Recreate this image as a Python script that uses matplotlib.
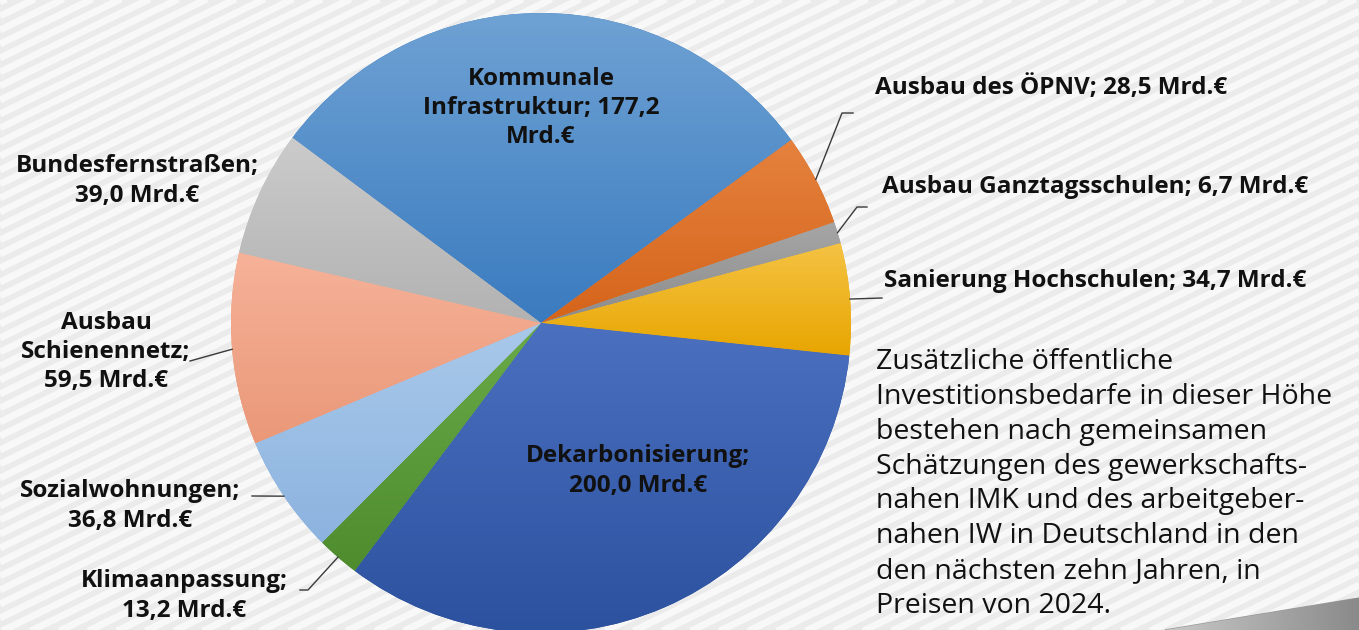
import numpy as np
import matplotlib
matplotlib.use("Agg")
import matplotlib.pyplot as plt
from matplotlib.colors import LinearSegmentedColormap
from matplotlib.patches import Polygon

# investment needs in bn EUR, clockwise starting with the big blue slice
categories = ["Kommunale\nInfrastruktur", "Ausbau des ÖPNV", "Ausbau Ganztagsschulen",
              "Sanierung Hochschulen", "Dekarbonisierung", "Klimaanpassung",
              "Sozialwohnungen", "Ausbau\nSchienennetz", "Bundesfernstraßen"]
values = [177.2, 28.5, 6.7, 34.7, 200.0, 13.2, 36.8, 59.5, 39.0]

note = ("Zusätzliche öffentliche\n"
        "Investitionsbedarfe in dieser Höhe\n"
        "bestehen nach gemeinsamen\n"
        "Schätzungen des gewerkschafts-\n"
        "nahen IMK und des arbeitgeber-\n"
        "nahen IW in Deutschland in den\n"
        "den nächsten zehn Jahren, in\n"
        "Preisen von 2024.")

# (light, dark) gradient per slice
colors = [("#6fa2d4", "#3a7bbf"), ("#e5823e", "#d5641a"), ("#a6a6a6", "#8c8c8c"),
          ("#f5c344", "#e7a500"), ("#4b70bf", "#2c519f"), ("#6aaa48", "#4e8c2e"),
          ("#a9c9ea", "#8cb3df"), ("#f6b299", "#ea9878"), ("#cbcbcb", "#b2b2b2")]

W, H = 1359, 630
FONT = "Open Sans"


def py(y):
    # pixel row -> data y
    return H - y


def fmt(v):
    return ("%.1f" % v).replace(".", ",")


fig = plt.figure(figsize=(W / 100, H / 100), dpi=100)
ax = fig.add_axes([0, 0, 1, 1])
ax.set_xlim(0, W)
ax.set_ylim(0, H)
ax.axis("off")

# striped background
ax.add_patch(plt.Rectangle((0, 0), W, H, color="#ebebeb", zorder=0))
slope = np.tan(np.radians(26))
for y0 in np.arange(-800, H + 20, 14):
    ax.plot([0, W], [y0, y0 + slope * W], color="#f8f8f8", lw=5, zorder=0.5,
            solid_capstyle="butt")

# grey corner shape bottom right
corner = Polygon([(1165, 0), (W, py(598)), (W, 0)], closed=True, color="#9a9a9a", zorder=1)
ax.add_patch(corner)
cg = ax.imshow(np.linspace(0, 1, 256).reshape(1, -1), extent=[1165, W, 0, py(598)],
               cmap=LinearSegmentedColormap.from_list("c", ["#c9c9c9", "#8a8a8a"]),
               aspect="auto", zorder=1.1)
cg.set_clip_path(corner)

cx, cy, R = 541, py(323), 310
wedges, _ = ax.pie(values, center=(cx, cy), radius=R, startangle=143.3,
                   counterclock=False, colors=[c[1] for c in colors],
                   wedgeprops=dict(linewidth=0), frame=True)
for w, (light, dark) in zip(wedges, colors):
    ext = w.get_path().get_extents()
    im = ax.imshow(np.linspace(0, 1, 256).reshape(-1, 1), origin="lower",
                   extent=[ext.x0, ext.x1, ext.y0, ext.y1], aspect="auto",
                   cmap=LinearSegmentedColormap.from_list("g", [dark, light]),
                   interpolation="bilinear", zorder=2)
    im.set_clip_path(w)

ax.set_xlim(0, W)
ax.set_ylim(0, H)
ax.set_aspect("auto")
ax.axis("off")

# label layout: (x, y px, ha, sep between name and value, sep before unit)
label_pos = [
    (541, 108, "center", "; ", "\n"),
    (875, 88, "left", "; ", " "),
    (882, 187, "left", "; ", " "),
    (884, 281, "left", "; ", " "),
    (638, 471, "center", ";\n", " "),
    (184, 596, "center", ";\n", " "),
    (130, 506, "center", ";\n", " "),
    (106, 352, "center", ";\n", " "),
    (137, 181, "center", ";\n", " "),
]
for name, v, (x, y, ha, s1, s2) in zip(categories, values, label_pos):
    ax.text(x, py(y), name + s1 + fmt(v) + s2 + "Mrd.€", ha=ha, va="center",
            multialignment="center", fontsize=17.5, fontweight="bold",
            family=FONT, color="#111111", linespacing=1.3, zorder=5)

# leader lines: label side points, end at slice mid-angle on the rim
leaders = {
    1: [(853, 113), (842, 113)],
    2: [(867, 207), (857, 207)],
    3: [(882, 298)],
    5: [(300, 590), (308, 590)],
    6: [(252, 496)],
    7: [(190, 361)],
}
total = sum(values)
ang = 143.3
for i, v in enumerate(values):
    span = v / total * 360
    mid = np.radians(ang - span / 2)
    ang -= span
    if i in leaders:
        pts = [(x, py(y)) for x, y in leaders[i]]
        pts.append((cx + R * np.cos(mid), cy + R * np.sin(mid)))
        xs, ys = zip(*pts)
        ax.plot(xs, ys, color="#3a3a3a", lw=1.0, zorder=4)

ax.text(876, py(484), note, ha="left", va="center", fontsize=20.5,
        family=FONT, color="#111111", linespacing=1.33, zorder=5)

fig.savefig("out.png", dpi=100)
